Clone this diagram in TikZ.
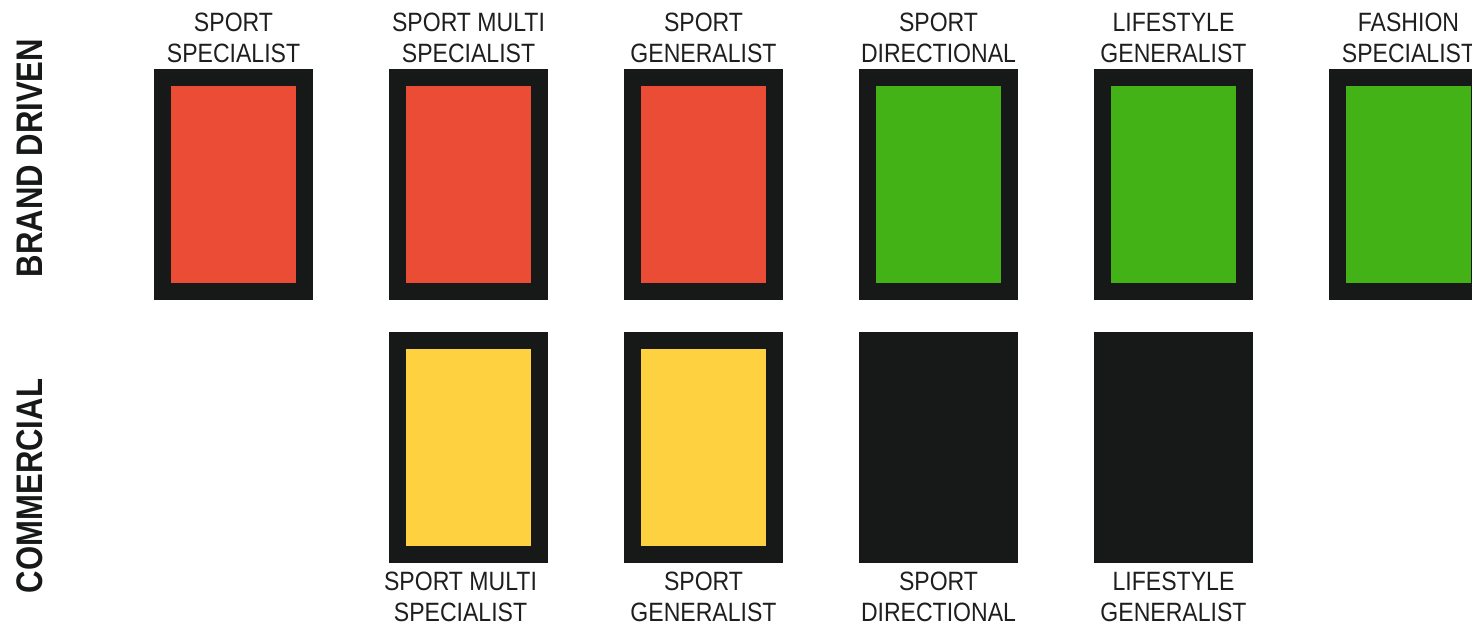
\documentclass[tikz,border=0pt]{standalone}
\usepackage{fontspec}
\setmainfont[FakeStretch=0.87]{Liberation Sans}
\newfontfamily\sidefont[FakeStretch=0.84]{Liberation Sans}
\definecolor{boxblack}{HTML}{171918}
\definecolor{boxred}{HTML}{EA4C36}
\definecolor{boxgreen}{HTML}{43B216}
\definecolor{boxyellow}{HTML}{FDD13F}
\definecolor{txtgray}{HTML}{1E1E1E}
\begin{document}
\begin{tikzpicture}[x=1pt,y=-1pt,
  card/.style={draw=boxblack, line width=17pt, minimum width=142pt, minimum height=214pt, inner sep=0pt},
  lbl/.style={anchor=base, align=center, font=\fontsize{26.5}{30.5}\selectfont, text=txtgray, inner sep=0pt},
  side/.style={rotate=90, anchor=base, font=\sidefont\bfseries\fontsize{37}{37}\selectfont, text=boxblack, inner sep=0pt}]
\useasboundingbox (0,0) rectangle (1472,624);
\clip (0,0) rectangle (1472,624);
% row labels
\node[side] (brand) at (42,158) {BRAND DRIVEN};
\node[side] (comm) at (42,486) {COMMERCIAL};
% top row
\node[card, fill=boxred] (b1) at (233.5,184.5) {};
\node[card, fill=boxred] (b2) at (468.5,184.5) {};
\node[card, fill=boxred] (b3) at (703.5,184.5) {};
\node[card, fill=boxgreen] (b4) at (938.5,184.5) {};
\node[card, fill=boxgreen] (b5) at (1173.5,184.5) {};
\node[card, fill=boxgreen] (b6) at (1408.5,184.5) {};
\node[lbl] (t1) at (233.5,62) {SPORT\\SPECIALIST};
\node[lbl] (t2) at (468.5,62) {SPORT MULTI\\SPECIALIST};
\node[lbl] (t3) at (703.5,62) {SPORT\\GENERALIST};
\node[lbl] (t4) at (938.5,62) {SPORT\\DIRECTIONAL};
\node[lbl] (t5) at (1173.5,62) {LIFESTYLE\\GENERALIST};
\node[lbl] (t6) at (1408.5,62) {FASHION\\SPECIALIST};
% bottom row
\node[card, fill=boxyellow] (c2) at (468.5,447.5) {};
\node[card, fill=boxyellow] (c3) at (703.5,447.5) {};
\node[card, fill=boxblack] (c4) at (938.5,447.5) {};
\node[card, fill=boxblack] (c5) at (1173.5,447.5) {};
\node[lbl] (u2) at (460.5,621) {SPORT MULTI\\SPECIALIST};
\node[lbl] (u3) at (703.5,621) {SPORT\\GENERALIST};
\node[lbl] (u4) at (938.5,621) {SPORT\\DIRECTIONAL};
\node[lbl] (u5) at (1173.5,621) {LIFESTYLE\\GENERALIST};
\end{tikzpicture}
\end{document}
